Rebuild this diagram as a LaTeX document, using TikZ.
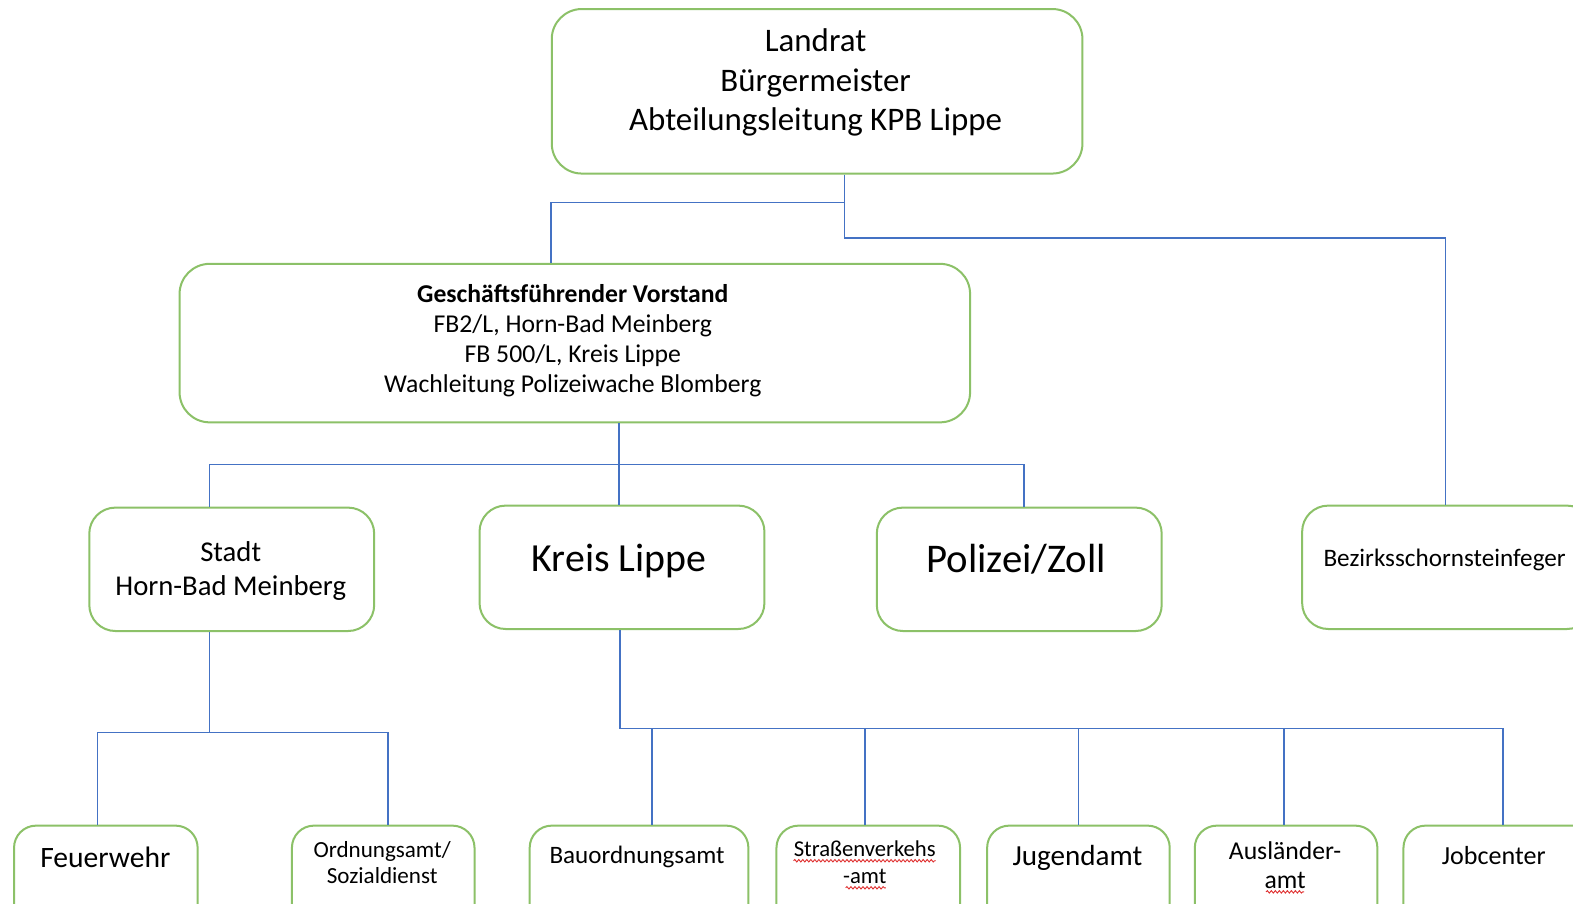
\documentclass[tikz,border=0pt]{standalone}
\usepackage{fontspec}
\setmainfont{Carlito}
\usetikzlibrary{decorations.pathmorphing}
\definecolor{boxgreen}{HTML}{8CC168}
\definecolor{lineblue}{HTML}{4472C4}
\definecolor{spellred}{HTML}{E03030}
\tikzset{
  orgbox/.style={draw=boxgreen, line width=2pt, rounded corners=#1, fill=white, anchor=north west, inner sep=0pt},
  orgbox/.default=26pt,
  conn/.style={draw=lineblue, line width=1.6pt},
  lbl/.style={align=center, inner sep=0pt, text=black},
  spell/.style={draw=spellred, line width=0.9pt, decorate, decoration={snake, amplitude=1.2pt, segment length=4pt}}
}
\begin{document}
\begin{tikzpicture}[x=1pt, y=-1pt]
\useasboundingbox (0,0) rectangle (1568,901);
\fill[white] (0,0) rectangle (1568,901);
\clip (0,0) rectangle (1568,901);

% boxes
\node[orgbox=30pt, minimum width=529pt, minimum height=164pt] (landrat) at (549,8) {};
\node[orgbox=30pt, minimum width=788pt, minimum height=158pt] (gv) at (178,262) {};
\node[orgbox, minimum width=284pt, minimum height=123pt] (stadt) at (88,505) {};
\node[orgbox, minimum width=284pt, minimum height=123pt] (kreis) at (477,503) {};
\node[orgbox, minimum width=284pt, minimum height=123pt] (polizei) at (873,505) {};
\node[orgbox, minimum width=290pt, minimum height=123pt] (bezirk) at (1297,503) {};
\node[orgbox=22pt, minimum width=183pt, minimum height=120pt] (feuer) at (13,822) {};
\node[orgbox=22pt, minimum width=182pt, minimum height=120pt] (ordnung) at (290,822) {};
\node[orgbox=22pt, minimum width=218pt, minimum height=120pt] (bau) at (527,822) {};
\node[orgbox=22pt, minimum width=183pt, minimum height=120pt] (strasse) at (773,822) {};
\node[orgbox=22pt, minimum width=182pt, minimum height=120pt] (jugend) at (983,822) {};
\node[orgbox=22pt, minimum width=182pt, minimum height=120pt] (ausl) at (1190,822) {};
\node[orgbox=22pt, minimum width=190pt, minimum height=120pt] (jobc) at (1398,822) {};

% texts
\node[lbl, font=\fontsize{32.8}{39.5}\selectfont] (landrat-t) at (813,82.5) {Landrat\\Bürgermeister\\Abteilungsleitung KPB Lippe};
\node[lbl, font=\fontsize{25.6}{30}\selectfont] (gv-t) at (571,339.5) {\textbf{Geschäftsführender Vorstand}\\FB2/L, Horn-Bad Meinberg\\FB 500/L, Kreis Lippe\\Wachleitung Polizeiwache Blomberg};
\node[lbl, font=\fontsize{28.6}{34}\selectfont] (stadt-t) at (230,569.5) {Stadt\\Horn-Bad Meinberg};
\node[lbl, font=\fontsize{39.7}{46}\selectfont] (kreis-t) at (617,559) {Kreis Lippe};
\node[lbl, font=\fontsize{40.6}{46}\selectfont] (polizei-t) at (1013,557) {Polizei/Zoll};
\node[lbl, font=\fontsize{25.1}{29}\selectfont] (bezirk-t) at (1440,558) {Bezirksschornsteinfeger};
\node[lbl, font=\fontsize{29.5}{32}\selectfont] (feuer-t) at (105,855) {Feuerwehr};
\node[lbl, font=\fontsize{23}{26}\selectfont] (ordnung-t) at (381,859.5) {Ordnungsamt/\\Sozialdienst};
\node[lbl, font=\fontsize{25}{28}\selectfont] (bau-t) at (635,854) {Bauordnungsamt};
\node[lbl, font=\fontsize{22.6}{27}\selectfont] (strasse-t) at (862,859.5) {Straßenverkehs\\-amt};
\node[lbl, font=\fontsize{29}{32}\selectfont] (jugend-t) at (1074,855) {Jugendamt};
\node[lbl, font=\fontsize{25.6}{29}\selectfont] (ausl-t) at (1281,862) {Ausländer-\\amt};
\node[lbl, font=\fontsize{26}{29}\selectfont] (jobc-t) at (1489,853) {Jobcenter};

% spell-check underlines
\draw[spell] (791,858) -- (933,858);
\draw[spell] (843,885) -- (883,885);
\draw[spell] (1262,889) -- (1300,889);

% connector junctions
\coordinate (a1) at (842,202);
\coordinate (a2) at (842,237);
\coordinate (a3) at (1441,237);
\coordinate (a4) at (549,202);
\coordinate (b1) at (617,463);
\coordinate (b2) at (209,463);
\coordinate (b3) at (1021,463);
\coordinate (c1) at (209,730);
\coordinate (c2) at (97,730);
\coordinate (c3) at (387,730);
\coordinate (d0) at (618,726);
\coordinate (d1) at (650,726);
\coordinate (d2) at (862,726);
\coordinate (d3) at (1075,726);
\coordinate (d4) at (1280,726);
\coordinate (d5) at (1498,726);

% connectors
\draw[conn] (landrat.south -| a1) -- (a2) -- (a3) -- (bezirk.north -| a3);
\draw[conn] (a1) -- (a4) -- (gv.north -| a4);
\draw[conn] (gv.south -| b1) -- (kreis.north -| b1);
\draw[conn] (stadt.north -| b2) -- (b2) -- (b3) -- (polizei.north -| b3);
\draw[conn] (stadt.south -| c1) -- (c1);
\draw[conn] (feuer.north -| c2) -- (c2) -- (c3) -- (ordnung.north -| c3);
\draw[conn] (kreis.south -| d0) -- (d0) -- (d5) -- (jobc.north -| d5);
\draw[conn] (d1) -- (bau.north -| d1);
\draw[conn] (d2) -- (strasse.north -| d2);
\draw[conn] (d3) -- (jugend.north -| d3);
\draw[conn] (d4) -- (ausl.north -| d4);
\end{tikzpicture}
\end{document}
